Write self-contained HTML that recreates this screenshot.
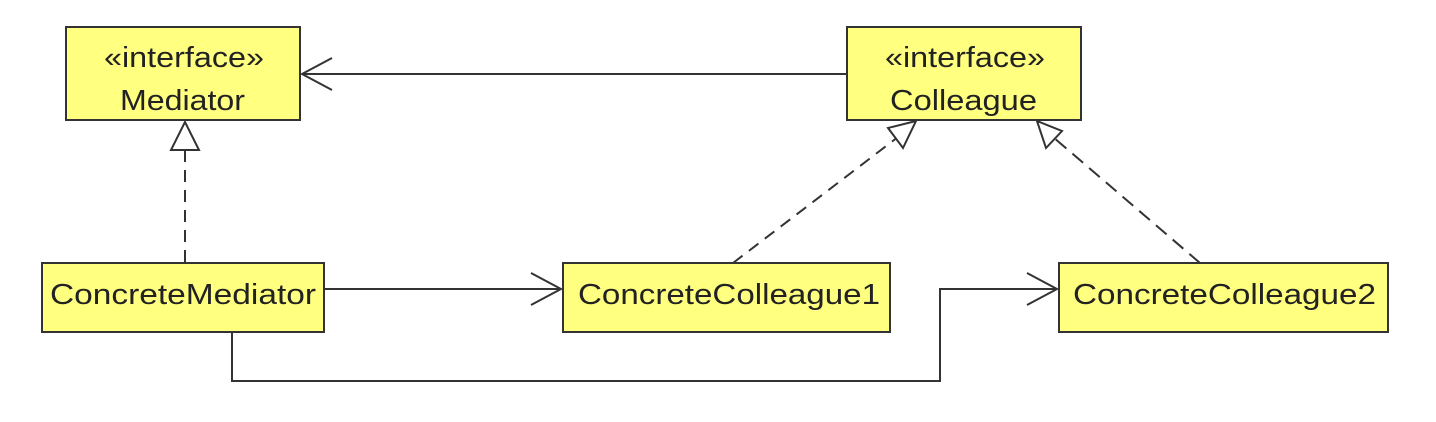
<!DOCTYPE html>
<html><head><style>
html,body{margin:0;padding:0;background:#fff;}
svg{display:block;}
text{font-family:"Liberation Sans",sans-serif;font-size:29px;fill:#222;}
</style></head><body>
<svg width="1436" height="422" viewBox="0 0 1436 422" xmlns="http://www.w3.org/2000/svg">
<g fill="#ffff80" stroke="#333" stroke-width="2">
<rect x="66" y="27" width="234" height="93"/>
<rect x="847" y="27" width="234" height="93"/>
<rect x="42" y="263" width="282" height="69"/>
<rect x="563" y="263" width="327" height="69"/>
<rect x="1059" y="263" width="329" height="69"/>
</g>
<g>
<text x="104" y="67" textLength="160" lengthAdjust="spacingAndGlyphs">«interface»</text>
<text x="120" y="110" textLength="125" lengthAdjust="spacingAndGlyphs">Mediator</text>
<text x="885" y="67" textLength="160" lengthAdjust="spacingAndGlyphs">«interface»</text>
<text x="890" y="110" textLength="147" lengthAdjust="spacingAndGlyphs">Colleague</text>
<text x="50" y="304" textLength="266" lengthAdjust="spacingAndGlyphs">ConcreteMediator</text>
<text x="578" y="304" textLength="302" lengthAdjust="spacingAndGlyphs">ConcreteColleague1</text>
<text x="1073" y="304" textLength="303" lengthAdjust="spacingAndGlyphs">ConcreteColleague2</text>
</g>
<g fill="none" stroke="#333" stroke-width="2">
<line x1="847" y1="74" x2="302" y2="74"/>
<polyline points="332,58 302,74 332,90"/>
<line x1="324" y1="289" x2="561" y2="289"/>
<polyline points="531,273 561,289 531,305"/>
<polyline points="232,332 232,381 940,381 940,289 1057,289"/>
<polyline points="1027,273 1057,289 1027,305"/>
<line x1="185" y1="150" x2="185" y2="263" stroke-dasharray="12,8"/>
<polygon points="185,122 171,150 199,150" fill="#fff"/>
<line x1="733" y1="263" x2="898" y2="137" stroke-dasharray="12,8"/>
<polygon points="916,121 888,128 903,148" fill="#fff"/>
<line x1="1200" y1="263" x2="1053" y2="137" stroke-dasharray="14,8"/>
<polygon points="1037,121 1046,148 1062,131" fill="#fff"/>
</g>
</svg>
</body></html>
